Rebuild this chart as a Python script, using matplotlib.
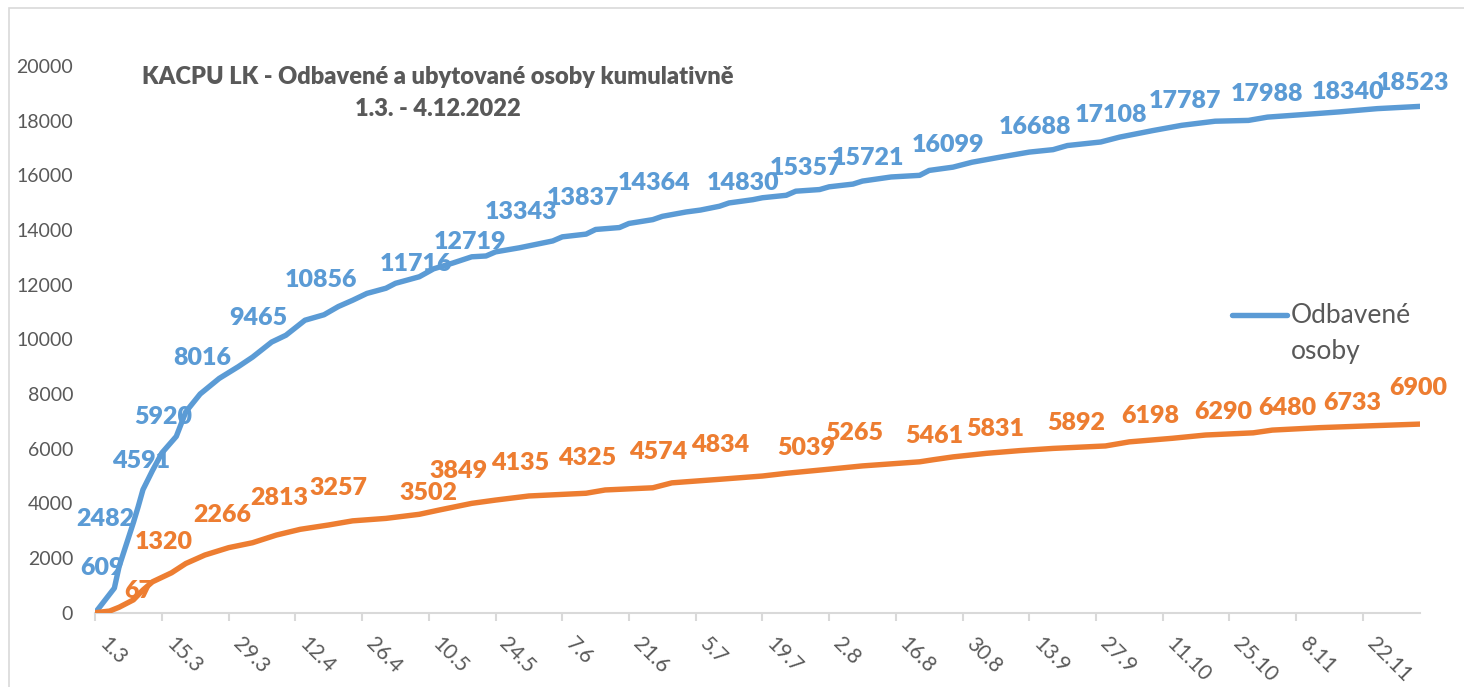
import matplotlib.pyplot as plt
from matplotlib.lines import Line2D

plt.rcParams['font.family'] = ['Lato', 'DejaVu Sans']

# dny od 1.3.2022
tick_days = list(range(0, 267, 14))
tick_labels = ['1.3', '15.3', '29.3', '12.4', '26.4', '10.5', '24.5', '7.6', '21.6', '5.7',
               '19.7', '2.8', '16.8', '30.8', '13.9', '27.9', '11.10', '25.10', '8.11', '22.11']

odb_days = [0, 4, 5, 8, 9, 10, 12, 14, 17, 19, 22, 26, 30, 33, 37, 40, 44, 48, 51, 54, 57, 61,
            63, 68, 71, 75, 79, 82, 84, 89, 96, 98, 103, 105, 110, 112, 117, 119, 124, 127,
            131, 133, 138, 140, 145, 147, 152, 154, 159, 161, 167, 173, 175, 180, 184, 190,
            196, 201, 204, 211, 215, 222, 228, 235, 242, 246, 254, 261, 269, 278]
odb_vals = [0, 900, 1690, 3300, 3880, 4500, 5200, 5850, 6450, 7350, 8000, 8570, 9000, 9350,
            9900, 10150, 10700, 10900, 11200, 11430, 11680, 11870, 12050, 12290, 12580, 12790,
            13020, 13050, 13200, 13350, 13600, 13750, 13850, 14020, 14090, 14240, 14380, 14500,
            14660, 14730, 14870, 14990, 15110, 15180, 15270, 15420, 15480, 15580, 15680, 15790,
            15940, 16000, 16180, 16300, 16480, 16670, 16850, 16940, 17090, 17220, 17400, 17640,
            17830, 17980, 18010, 18130, 18230, 18320, 18440, 18523]

uby_days = [0, 3, 5, 8, 10, 12, 16, 19, 23, 28, 33, 38, 43, 49, 54, 61, 68, 72, 79, 84, 91,
            103, 107, 117, 121, 124, 131, 140, 145, 154, 161, 173, 176, 180, 187, 194, 201,
            212, 217, 226, 233, 243, 247, 257, 268, 278]
uby_vals = [0, 60, 200, 470, 830, 1130, 1460, 1800, 2110, 2380, 2560, 2840, 3050, 3210, 3360,
            3450, 3600, 3750, 4000, 4120, 4270, 4370, 4490, 4570, 4750, 4790, 4880, 5000, 5100,
            5250, 5370, 5520, 5600, 5700, 5830, 5930, 6010, 6100, 6250, 6380, 6500, 6580, 6680,
            6770, 6840, 6900]

odb_label_days = [1.5, 2.1, 9.6, 14.3, 22.4, 34.3, 47.4, 67.4, 78.7, 89.3, 102.3, 117.3, 135.9,
                  149.1, 162.2, 179, 197.2, 213.1, 228.7, 245.9, 263, 276.5]
odb_label_vals = [609, 2482, 4591, 5920, 8016, 9465, 10856, 11716, 12719, 13343, 13837, 14364,
                  14830, 15357, 15721, 16099, 16688, 17108, 17787, 17988, 18340, 18523]
odb_label_dy = [28, 26, 26, 34, 36, 36, 36, 28, 23, 36, 36, 37, 24, 25, 25, 28, 30, 30, 25, 27,
                19, 23]

uby_label_days = [9.1, 14.3, 26.6, 38.5, 51.1, 69.9, 76.2, 89.2, 103.2, 118.2, 131.2, 149.2,
                  159.2, 176, 188.8, 205.8, 221.4, 236.8, 250.1, 263.7, 277.6]
uby_label_vals = [67, 1320, 2266, 2813, 3257, 3502, 3849, 4135, 4325, 4574, 4834, 5039, 5265,
                  5461, 5831, 5892, 6198, 6290, 6480, 6733, 6900]
uby_label_dy = [20, 35, 36, 38, 36, 24, 36, 37, 36, 36, 36, 27, 36, 27, 24, 29, 27, 29, 28, 26,
                36]

blue = '#5B9BD5'
orange = '#ED7D31'
gray = '#595959'
light = '#D9D9D9'

W, H = 1464, 687
fig = plt.figure(figsize=(W / 100, H / 100), dpi=100)
ax = fig.add_axes([95.3 / W, 1 - 612.7 / H, (1420 - 95.3) / W, (612.7 - 66) / H])

ax.plot(odb_days, odb_vals, color=blue, lw=3.9, solid_capstyle='round',
        solid_joinstyle='round', zorder=3)
ax.plot(uby_days, uby_vals, color=orange, lw=3.9, solid_capstyle='round',
        solid_joinstyle='round', zorder=3)

for d, v, dy in zip(odb_label_days, odb_label_vals, odb_label_dy):
    ax.annotate(str(v), (d, v), xytext=(0, dy), textcoords='offset pixels', ha='center',
                va='center', color=blue, fontsize=18, fontweight='heavy',
                annotation_clip=False, zorder=4)
for d, v, dy in zip(uby_label_days, uby_label_vals, uby_label_dy):
    ax.annotate(str(v), (d, v), xytext=(0, dy), textcoords='offset pixels', ha='center',
                va='center', color=orange, fontsize=18, fontweight='heavy',
                annotation_clip=False, zorder=4)

ax.set_xlim(0, 278)
ax.set_ylim(0, 20000)
ax.set_yticks(range(0, 20001, 2000))
ax.set_xticks(tick_days)
ax.set_xticklabels(tick_labels, rotation=-45, ha='left', va='top', rotation_mode='default')
ax.tick_params(axis='y', length=0, pad=16, labelsize=14, labelcolor=gray)
ax.tick_params(axis='x', length=6, width=1.5, color=light, direction='out', pad=9,
               labelsize=15, labelcolor=gray)
for s in ['top', 'right', 'left']:
    ax.spines[s].set_visible(False)
ax.spines['bottom'].set_color(light)
ax.spines['bottom'].set_linewidth(1.5)

fig.text(438 / W, 1 - 77 / H, 'KACPU LK - Odbavené a ubytované osoby kumulativně',
         ha='center', va='center', fontsize=17, fontweight='heavy', color=gray)
fig.text(438 / W, 1 - 109 / H, '1.3. - 4.12.2022',
         ha='center', va='center', fontsize=17, fontweight='heavy', color=gray)

# legenda jen pro modrou radu (jako v originale)
fig.add_artist(Line2D([1232 / W, 1287 / W], [1 - 315 / H, 1 - 315 / H], color=blue, lw=3.9,
                      solid_capstyle='round', transform=fig.transFigure))
fig.text(1291 / W, 1 - 315 / H, 'Odbavené', ha='left', va='center', fontsize=19, color=gray)
fig.text(1291 / W, 1 - 351 / H, 'osoby', ha='left', va='center', fontsize=19, color=gray)

fig.add_artist(plt.Rectangle((9 / W, -0.1), 1.2, 1.1 - 8 / H, transform=fig.transFigure,
                             fill=False, ec=light, lw=1.2))

fig.savefig('out.png', dpi=100)
